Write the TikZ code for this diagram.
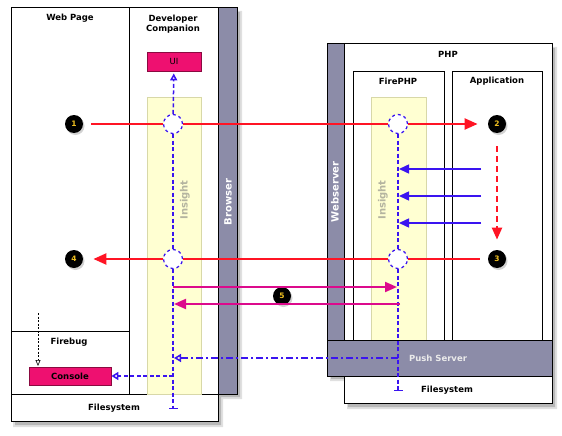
\documentclass[tikz,border=0pt]{standalone}
\usepackage{fontspec}
\setmainfont{DejaVu Sans}
\usetikzlibrary{arrows.meta,shadows}
\definecolor{flowred}{HTML}{FF1424}
\definecolor{probeblue}{HTML}{3A14F0}
\definecolor{pushpink}{HTML}{DC0A8C}
\definecolor{bargray}{HTML}{8C8CA8}
\definecolor{boxpink}{HTML}{EE1070}
\definecolor{boxedge}{HTML}{8A0A40}
\definecolor{insightfill}{HTML}{FFFFD2}
\definecolor{insightline}{HTML}{D8D8A8}
\definecolor{insighttext}{HTML}{B4B4A0}
\definecolor{numyellow}{HTML}{F0C020}
\tikzset{
  label/.style={font=\fontsize{8.5}{10}\selectfont\bfseries, align=center},
  sidelabel/.style={font=\fontsize{10}{12}\selectfont\bfseries, rotate=90},
  probe/.style={circle, draw=probeblue, dashed, line width=1.2pt, fill=white, minimum size=19pt, inner sep=0pt},
  stepdot/.style={circle, fill=black, text=numyellow, minimum size=18pt, inner sep=0pt, font=\fontsize{7.5}{8}\selectfont\bfseries, drop shadow={shadow xshift=1.5pt, shadow yshift=-2pt, opacity=.35}},
  flow/.style={flowred, line width=2.2pt},
  probeline/.style={probeblue, line width=1.5pt, dash pattern=on 4pt off 2.5pt},
  pinkbox/.style={draw=boxedge, fill=boxpink, font=\fontsize{8.5}{10}\selectfont\bfseries, inner sep=0pt},
  bar/.style={draw=black, fill=bargray},
  insight/.style={fill=insightfill, draw=insightline}
}
\begin{document}
\begin{tikzpicture}[x=1pt, y=-1pt, line width=0.8pt]
\useasboundingbox (0,0) rectangle (562,436);
\fill[black, opacity=.12] (13,11) -- (242,11) -- (242,399) -- (223,399) -- (223,427) -- (13,427) -- cycle;
\fill[black, opacity=.18] (15,12) -- (240,12) -- (240,397) -- (221,397) -- (221,425) -- (15,425) -- cycle;
\fill[black, opacity=.12] (330,47) -- (557,47) -- (557,409) -- (347,409) -- (347,381) -- (330,381) -- cycle;
\fill[black, opacity=.18] (331,48) -- (555,48) -- (555,407) -- (348,407) -- (348,379) -- (331,379) -- cycle;
\draw[fill=white] (11,7) rectangle (218,394);
\draw (11,7) rectangle (129,331);
\draw (11,331) rectangle (129,394);
\draw[bar] (218,7) rectangle (237,394);
\draw[fill=white] (11,394) rectangle (218,421);
\draw[insight] (147,97) rectangle (201,394);
\node[label] (webpage) at (70,18) {Web Page};
\node[label] (companion) at (173,24) {Developer\\Companion};
\node[label] (firebug) at (69,342) {Firebug};
\node[label] (fsleft) at (114,408) {Filesystem};
\node[sidelabel, white] (browser) at (228,202) {Browser};
\node[sidelabel, insighttext] (insleft) at (185,200) {Insight};
\node[pinkbox, minimum width=54pt, minimum height=19pt, font=\fontsize{8.5}{10}\selectfont] (ui) at (174,61.5) {UI};
\node[pinkbox, minimum width=82pt, minimum height=18pt] (console) at (70,376) {Console};
\draw[fill=white] (344,43) rectangle (552,340);
\draw[bar] (327,43) rectangle (344,340);
\draw[fill=white] (353,71) rectangle (444,340);
\draw[fill=white] (452,71) rectangle (542,340);
\draw[insight] (371,97) rectangle (426,340);
\draw[bar] (327,340) rectangle (552,376);
\draw[fill=white] (344,376) rectangle (552,403);
\node[label] (php) at (448,54) {PHP};
\node[label] (firephp) at (398,81) {FirePHP};
\node[label] (application) at (497,81) {Application};
\node[sidelabel, white] (webserver) at (335,192) {Webserver};
\node[sidelabel, insighttext] (insright) at (383,200) {Insight};
\node[label, white!92!black] (push) at (438,358) {Push Server};
\node[label] (fsright) at (447,390) {Filesystem};
\node[probe] (pL1) at (173,124){};
\node[probe] (pL2) at (173,259){};
\node[probe] (pR1) at (398,124){};
\node[probe] (pR2) at (398,259){};
\node[stepdot] (s1) at (74,124){1};
\node[stepdot] (s2) at (497,124){2};
\node[stepdot] (s3) at (497,259){3};
\node[stepdot] (s4) at (74,259){4};
\node[stepdot] (s5) at (282,296){5};
\coordinate (endL) at (173,409);
\coordinate (endR) at (398,391);
\coordinate (a1) at (481,169);
\coordinate (a2) at (481,196);
\coordinate (a3) at (481,223);
\coordinate (f1) at (399,169);
\coordinate (f2) at (399,196);
\coordinate (f3) at (399,223);
\coordinate (pushOut) at (398,358);
\coordinate (pushIn) at (174,358);
\coordinate (conOut) at (173,376);
\coordinate (fbTop) at (38,313);
\coordinate (fbBot) at (38,366);
\coordinate (gA) at (173,287);
\coordinate (gB) at (397,287);
\coordinate (gC) at (400,304);
\coordinate (gD) at (174,304);
\draw[probeline, -{Triangle[open, length=7pt, width=7pt]}, shorten >=2pt] (pL1) -- (ui);
\draw[probeline] (pL1) -- (pL2);
\draw[probeline, -{Bar[width=9pt]}] (pL2) -- (endL);
\draw[probeline] (pR1) -- (pR2);
\draw[probeline, -{Bar[width=9pt]}] (pR2) -- (endR);
\draw[flow, shorten <=8pt] (s1) -- (pL1);
\draw[flow] (pL1) -- (pR1);
\draw[flow, -{Triangle[length=13pt, width=11pt]}, shorten >=10pt] (pR1) -- (s2);
\draw[flow, dash pattern=on 6pt off 4pt, -{Triangle[length=12pt, width=10pt]}, shorten <=13pt, shorten >=10pt] (s2) -- (s3);
\draw[flow, shorten <=8pt] (s3) -- (pR2);
\draw[flow] (pR2) -- (pL2);
\draw[flow, -{Triangle[length=13pt, width=11pt]}, shorten >=10pt] (pL2) -- (s4);
\draw[probeblue, line width=1.5pt, -{Triangle[length=10pt, width=9pt]}] (a1) -- (f1);
\draw[probeblue, line width=1.5pt, -{Triangle[length=10pt, width=9pt]}] (a2) -- (f2);
\draw[probeblue, line width=1.5pt, -{Triangle[length=10pt, width=9pt]}] (a3) -- (f3);
\draw[pushpink, line width=2pt, -{Triangle[length=12pt, width=10pt]}] (gA) -- (gB);
\draw[pushpink, line width=2pt, -{Triangle[length=12pt, width=10pt]}] (gC) -- (gD);
\draw[probeblue, line width=1.5pt, dash pattern=on 7pt off 3pt on 2pt off 3pt, -{Triangle[open, length=7pt, width=8pt]}] (pushOut) -- (pushIn);
\draw[probeblue, line width=1.5pt, dash pattern=on 4pt off 2.5pt, -{Triangle[open, length=7pt, width=8pt]}] (conOut) -- (console);
\draw[black, line width=0.6pt, dash pattern=on 2pt off 1.5pt, -{Triangle[open, length=6pt, width=5pt]}] (fbTop) -- (fbBot);
\end{tikzpicture}
\end{document}
